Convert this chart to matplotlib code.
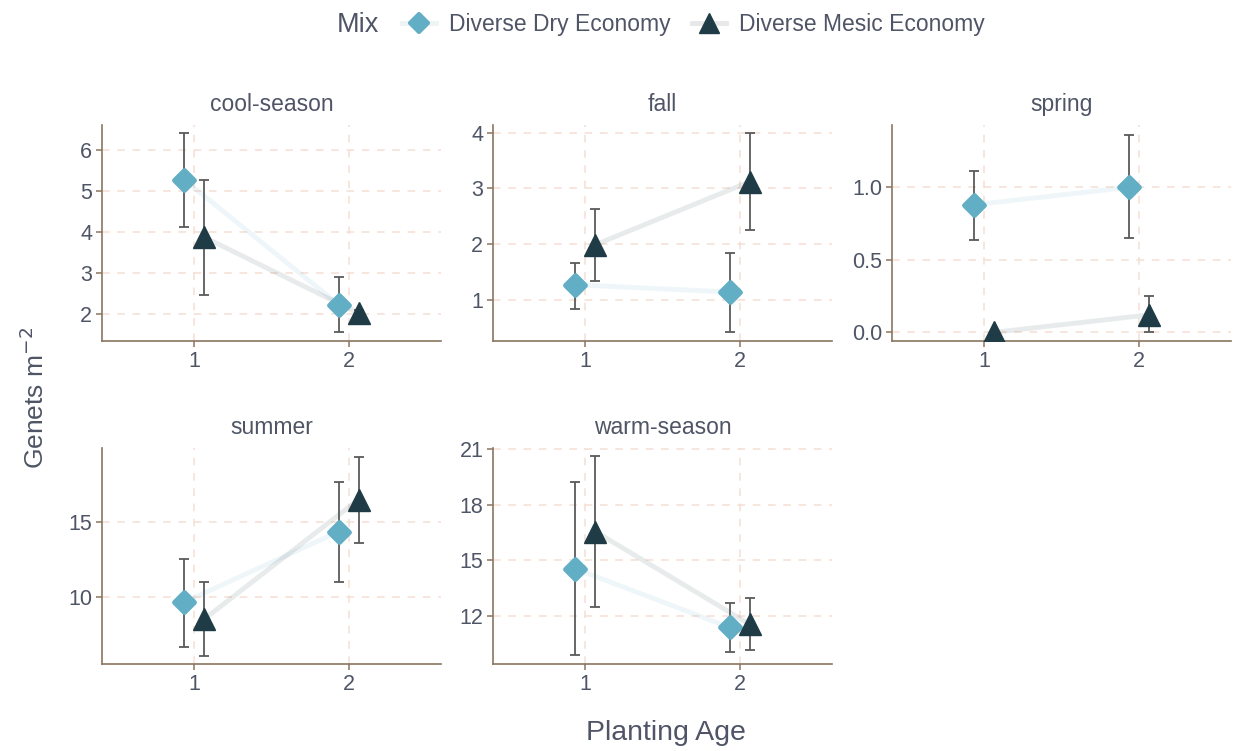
import matplotlib
matplotlib.use("Agg")
import matplotlib.pyplot as plt
from matplotlib.lines import Line2D
from matplotlib.markers import MarkerStyle

plt.rcParams['font.family'] = ['Liberation Sans', 'DejaVu Sans']

# genets per m2 by planting age, one facet per functional group
seasons = ["cool-season", "fall", "spring", "summer", "warm-season"]
ages = [1, 2]
mixes = ["Diverse Dry Economy", "Diverse Mesic Economy"]

dry_mean = [[5.27, 2.23], [1.27, 1.14], [0.88, 1.00], [9.65, 14.33], [14.55, 11.40]]
dry_lo = [[4.12, 1.56], [0.84, 0.43], [0.64, 0.65], [6.67, 11.00], [9.90, 10.07]]
dry_hi = [[6.41, 2.90], [1.67, 1.84], [1.11, 1.36], [12.50, 17.67], [19.20, 12.70]]

mesic_mean = [[3.87, 2.02], [1.99, 3.12], [0.00, 0.12], [8.53, 16.47], [16.55, 11.57]]
mesic_lo = [[2.46, 1.94], [1.34, 2.25], [0.00, 0.00], [6.07, 13.60], [12.50, 10.18]]
mesic_hi = [[5.27, 2.10], [2.64, 4.00], [0.00, 0.25], [11.00, 19.33], [20.60, 12.96]]

y_limits = [(1.34, 6.61), (0.26, 4.14), (-0.06, 1.43), (5.53, 19.9), (9.43, 21.05)]
y_ticks = [[2, 3, 4, 5, 6], [1, 2, 3, 4], [0.0, 0.5, 1.0], [10, 15], [12, 15, 18, 21]]

dry_col = "#62aec5"
mesic_col = "#1f3b45"
text_col = "#4f5566"
axis_col = "#8a7560"
grid_col = "#f4dfd3"
err_col = "#5a5a5a"

diamond = MarkerStyle("D", joinstyle="round")

W, H = 1235, 751
fig = plt.figure(figsize=(W / 100, H / 100), dpi=100)

lefts = [102, 493, 892]
tops = [125, 448]
aw, ah = 339, 216

styles = [
    (dry_mean, dry_lo, dry_hi, dry_col, diamond, 10.5, 3.5, -0.065),
    (mesic_mean, mesic_lo, mesic_hi, mesic_col, "^", 16, 1.0, 0.065),
]

for i, name in enumerate(seasons):
    r, c = divmod(i, 3)
    ax = fig.add_axes([lefts[c] / W, 1 - (tops[r] + ah) / H, aw / W, ah / H])
    for mean, lo, hi, col, mk, ms, mew, dx in styles:
        xs = [a + dx for a in ages]
        ys = mean[i]
        ax.plot(xs, ys, color=col, alpha=0.1, lw=3.5, solid_capstyle="butt", zorder=1)
        yerr = [[m - l for m, l in zip(ys, lo[i])], [h - m for m, h in zip(ys, hi[i])]]
        ax.errorbar(xs, ys, yerr=yerr, fmt="none", ecolor=err_col, elinewidth=1.3,
                    capsize=3.5, capthick=1.3, zorder=2)
        ax.plot(xs, ys, ls="none", marker=mk, ms=ms, color=col, mec=col,
                mew=mew, zorder=3)
    ax.set_xlim(0.4, 2.6)
    ax.set_ylim(*y_limits[i])
    ax.set_xticks(ages)
    ax.set_yticks(y_ticks[i])
    if name == "spring":
        ax.set_yticklabels([f"{t:.1f}" for t in y_ticks[i]])
    ax.grid(True, color=grid_col, ls=(0, (5, 5)), lw=1.1)
    ax.set_axisbelow(True)
    for s in ["top", "right"]:
        ax.spines[s].set_visible(False)
    for s in ["left", "bottom"]:
        ax.spines[s].set_color(axis_col)
        ax.spines[s].set_linewidth(1.2)
    ax.tick_params(colors=axis_col, labelcolor=text_col, labelsize=15.5,
                   length=4, width=1.1, pad=3)
    ax.set_title(name, fontsize=16.5, color=text_col, pad=10)

fig.text(35 / W, 1 - 398 / H, "Genets m$^{-2}$", rotation=90, ha="center",
         va="center", fontsize=19, color=text_col)
fig.text(666 / W, 1 - 733 / H, "Planting Age", ha="center", va="center",
         fontsize=20.5, color=text_col)

# legend across the top
fig.text(358 / W, 1 - 25 / H, "Mix", ha="center", va="center", fontsize=19.5,
         color=text_col)
handles = [
    Line2D([], [], color="#eef4f6", marker=diamond, ms=9.5, mfc=dry_col,
           mec=dry_col, lw=3.5, mew=3),
    Line2D([], [], color="#e6e8e9", marker="^", ms=14, mfc=mesic_col,
           mec=mesic_col, lw=3.5),
]
fig.legend(handles, mixes, loc="center left", bbox_to_anchor=(402 / W, 1 - 25 / H),
           ncol=2, frameon=False, fontsize=16.5, handlelength=1.5,
           handletextpad=0.55, columnspacing=0.92, labelcolor=text_col,
           borderaxespad=0, borderpad=0)

fig.savefig("out.png", dpi=100, facecolor="white")
